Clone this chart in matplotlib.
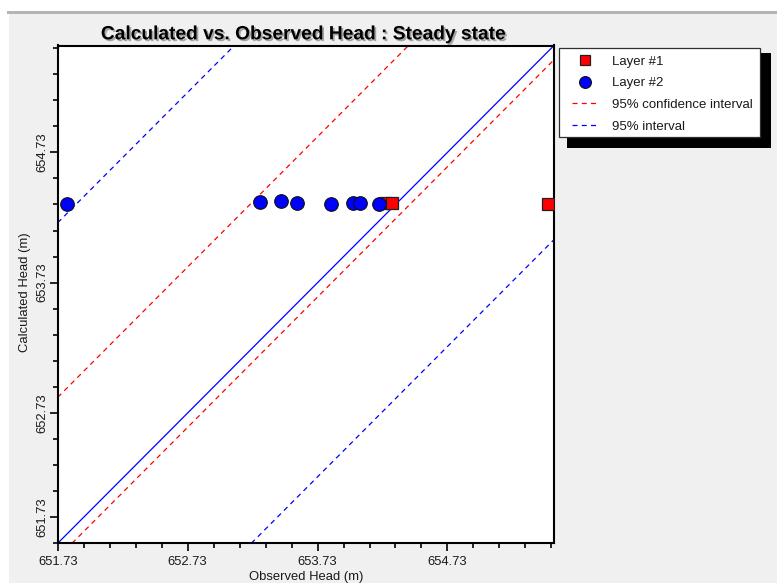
import numpy as np
import matplotlib
matplotlib.use("Agg")
import matplotlib.pyplot as plt
from matplotlib.patches import Rectangle
from matplotlib.ticker import FixedLocator, FixedFormatter
import matplotlib.patheffects as pe

plt.rcParams['font.family'] = ['Liberation Sans', 'DejaVu Sans']

# ---------------- data ----------------
title = "Calculated vs. Observed Head : Steady state"
x_label = "Observed Head (m)"
y_label = "Calculated Head (m)"

layer1_observed = [654.25, 654.30, 655.50]
layer1_calculated = [654.34, 654.34, 654.33]

layer2_observed = [651.80, 653.29, 653.45, 653.57, 653.83, 654.00, 654.06, 654.20]
layer2_calculated = [654.33, 654.35, 654.36, 654.34, 654.33, 654.34, 654.34, 654.33]

axis_min = 651.73
axis_max = 655.55

confidence_offsets = [1.12, -0.11]   # 95% confidence interval (red dashed)
interval_offsets = [2.46, -1.49]     # 95% interval (blue dashed)

x_major_ticks = [651.73, 652.73, 653.73, 654.73]
x_tick_labels = ["651.73", "652.73", "653.73", "654.73"]
y_major_ticks = [651.93, 652.73, 653.73, 654.73]
y_tick_labels = ["651.73", "652.73", "653.73", "654.73"]
minor_ticks = list(np.round(651.73 + 0.2 * np.arange(20), 2))

legend_labels = ["Layer #1", "Layer #2", "95% confidence interval", "95% interval"]

# ---------------- figure ----------------
W, H = 777, 583
fig = plt.figure(figsize=(W / 100, H / 100), dpi=100)
fig.patch.set_facecolor('white')

def fx(px):
    return px / W

def fy(py):
    return 1 - py / H

# gray window panel
fig.patches.append(Rectangle((fx(9), 0), 1, fy(13), transform=fig.transFigure,
                             facecolor='#f0f0f0', edgecolor='none', zorder=-10))
fig.patches.append(Rectangle((fx(7), fy(14)), 1, 2.5 / H, transform=fig.transFigure,
                             facecolor='#b4b4b4', edgecolor='none', zorder=-9))

ax = fig.add_axes([fx(57.7), fy(543.3), (554 - 57.7) / W, (543.3 - 45.5) / H])
ax.set_facecolor('white')
ax.set_xlim(axis_min, axis_max)
ax.set_ylim(axis_min, axis_max)

dash = (4, 3.4)
# 1:1 line
ax.axline((axis_min, axis_min), slope=1, color='#0000ff', lw=0.9, zorder=2)
conf_lines = []
for off in confidence_offsets:
    l = ax.axline((axis_min, axis_min + off), slope=1, color='#ff0000', lw=0.9,
                  dashes=dash, zorder=2)
    conf_lines.append(l)
int_lines = []
for off in interval_offsets:
    l = ax.axline((axis_min, axis_min + off), slope=1, color='#0000ff', lw=0.9,
                  dashes=dash, zorder=2)
    int_lines.append(l)

h1, = ax.plot(layer1_observed, layer1_calculated, linestyle='none', marker='s',
              markersize=9.1, markerfacecolor='#ff0000', markeredgecolor='#202020',
              markeredgewidth=0.9, zorder=3)
h2, = ax.plot(layer2_observed, layer2_calculated, linestyle='none', marker='o',
              markersize=9.8, markerfacecolor='#0000ff', markeredgecolor='#101010',
              markeredgewidth=0.8, zorder=4)

# ticks
ax.xaxis.set_major_locator(FixedLocator(x_major_ticks))
ax.xaxis.set_major_formatter(FixedFormatter(x_tick_labels))
ax.yaxis.set_major_locator(FixedLocator(y_major_ticks))
ax.yaxis.set_major_formatter(FixedFormatter(y_tick_labels))
ax.xaxis.set_minor_locator(FixedLocator(minor_ticks))
ax.yaxis.set_minor_locator(FixedLocator(minor_ticks))
ax.tick_params(axis='both', which='major', length=6, width=1.2, direction='out',
               labelsize=9.4, colors='black', labelcolor='#1a1a1a')
ax.tick_params(axis='both', which='minor', length=3.6, width=1.2, direction='out')
ax.tick_params(axis='x', which='major', pad=3)
ax.tick_params(axis='y', which='major', pad=1)
for lab in ax.get_yticklabels():
    lab.set_rotation(90)
    lab.set_va('center')
    lab.set_ha('right')

for s in ax.spines.values():
    s.set_linewidth(1.5)
    s.set_color('black')

ax.set_xlabel(x_label, fontsize=9.4, color='#1a1a1a', va='baseline')
ax.xaxis.set_label_coords(0.5, -(580.3 - 543.3) / (543.3 - 45.5))
ax.set_ylabel(y_label, fontsize=9.4, color='#1a1a1a', va='center')
ax.yaxis.set_label_coords(-(57.7 - 25.5) / (554 - 57.7), (543.3 - 292) / (543.3 - 45.5))

# title with shadow
fig.text(fx(302.5), fy(39.3), title, fontsize=13.8, fontweight='bold', ha='center',
         va='baseline', color='black',
         path_effects=[pe.withSimplePatchShadow(offset=(1.3, -1.3), shadow_rgbFace='#707070', alpha=0.6)])

# legend box + shadow
fig.patches.append(Rectangle((fx(567), fy(148.3)), (771 - 567) / W, (148.3 - 52.7) / H,
                             transform=fig.transFigure, facecolor='black', edgecolor='none', zorder=3))
fig.patches.append(Rectangle((fx(559), fy(137.3)), (760 - 559) / W, (137.3 - 48.3) / H,
                             transform=fig.transFigure, facecolor='white', edgecolor='#303030',
                             lw=0.9, zorder=4))

leg_fs = 9.5
fs_px = leg_fs * 100 / 72
leg = fig.legend([h1, h2, conf_lines[0], int_lines[0]], legend_labels,
                 loc='upper left', bbox_to_anchor=(fx(571.7), fy(55.5)),
                 frameon=False, fontsize=leg_fs, borderpad=0, borderaxespad=0,
                 handlelength=26.6 / fs_px, handletextpad=14 / fs_px,
                 labelspacing=0.71, markerscale=0.87)
leg.set_zorder(5)
for t in leg.get_texts():
    t.set_color('#1a1a1a')

fig.savefig("out.png", dpi=100, facecolor=fig.get_facecolor())
